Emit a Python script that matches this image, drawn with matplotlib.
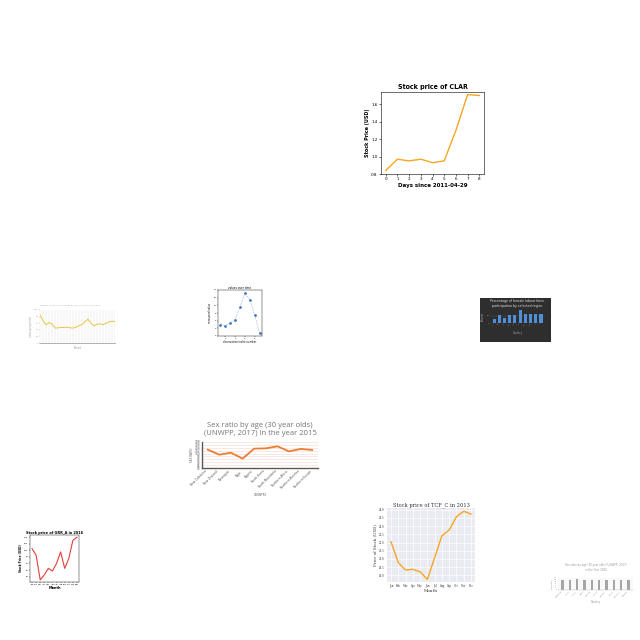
import matplotlib
matplotlib.use("Agg")
import matplotlib.pyplot as plt

# --- data -------------------------------------------------------------
clar_days = [0, 1, 2, 3, 4, 5, 6, 7, 8]
clar_price = [0.84, 0.97, 0.95, 0.97, 0.93, 0.95, 1.30, 1.71, 1.70]

trend_x = list(range(26))
trend_y = [85, 68, 55, 62, 58, 45, 46, 47, 47, 48, 46, 45, 48, 52, 56, 65,
           72, 60, 52, 57, 58, 55, 60, 64, 66, 65]

peak_x = [1, 2, 3, 4, 5, 6, 7, 8, 9]
peak_y = [5.0, 4.7, 5.5, 6.3, 9.6, 13.1, 11.5, 7.5, 2.8]

dark_labels = ["A", "B", "C", "D", "E", "F", "G", "H", "I", "J"]
dark_vals = [12, 22, 14, 22, 22, 36, 24, 24, 24, 24]

countries_2015 = ["New Caledonia", "New Zealand", "Nicaragua", "Niger", "Nigeria",
                  "North Korea", "North Macedonia", "Northern Africa",
                  "Northern America", "Northern Europe"]
ratio_2015 = [102.7, 99.2, 100.6, 96.5, 103.4, 103.6, 105.0, 101.5, 103.2, 102.5]

months = ["Jan", "Feb", "Mar", "Apr", "May", "Jun", "Jul", "Aug", "Sep", "Oct", "Nov", "Dec"]
grr_price = [105, 85, 10, 25, 45, 37, 60, 95, 45, 75, 130, 140]
tcf_price = [22.04, 20.78, 20.33, 20.37, 20.22, 19.76, 21.08, 22.41, 22.76, 23.57, 23.90, 23.73]

countries_1980 = ["Afghanistan", "Albania", "Algeria", "Angola", "Argentina",
                  "Armenia", "Australia", "Austria", "Azerbaijan", "Bahamas"]
ratio_1980 = [102, 101, 108, 101, 100, 101, 102, 101, 100, 104]

W = 640


def box(l, t, r, b):
    # pixel box -> figure fraction rect
    return [l / W, 1 - b / W, (r - l) / W, (b - t) / W]


fig = plt.figure(figsize=(6.4, 6.4), dpi=100)
fig.patch.set_facecolor("white")

# --- CLAR stock -------------------------------------------------------
ax = fig.add_axes(box(381, 92, 484, 174))
ax.plot(clar_days, clar_price, color="#f5a623", lw=1)
ax.set_ylim(0.8, 1.74)
ax.set_yticks([0.8, 1.0, 1.2, 1.4, 1.6])
ax.set_xticks(clar_days)
ax.tick_params(labelsize=3, length=1.5, width=0.4, pad=1)
for s in ax.spines.values():
    s.set_linewidth(0.4)
ax.set_title("Stock price of CLAR", fontsize=5, fontweight="bold", pad=2, fontstretch="condensed")
ax.set_xlabel("Days since 2011-04-29", fontsize=4, fontweight="bold", labelpad=1)
ax.set_ylabel("Stock Price (USD)", fontsize=3.5, fontweight="bold", labelpad=1)

# --- light trend line ------------------------------------------------
ax = fig.add_axes(box(40, 310, 115, 343))
ax.plot(trend_x, trend_y, color="#e8c547", lw=0.7)
ax.set_xlim(0, 25)
ax.set_ylim(0, 100)
ax.set_xticks(trend_x)
ax.set_xticklabels([""] * len(trend_x))
ax.set_yticks([0, 20, 40, 60, 80, 100])
ax.grid(axis="x", color="#dddddd", lw=0.3)
ax.tick_params(labelsize=1.5, length=0.8, width=0.3, pad=0.5, colors="#999999")
for s in ax.spines.values():
    s.set_visible(False)
ax.spines["bottom"].set_visible(True)
ax.spines["bottom"].set_color("#999999")
ax.spines["bottom"].set_linewidth(0.5)
ax.set_title("monthly values for the selected period by the reporting station",
             fontsize=1.4, color="#aaaaaa", pad=3, loc="left")
ax.set_ylabel("value per period", fontsize=1.8, color="#999999", labelpad=1)
ax.set_xlabel("Period", fontsize=1.8, color="#999999", labelpad=1)

# --- peak scatter line ----------------------------------------------
ax = fig.add_axes(box(218, 290, 262, 336))
ax.plot(peak_x, peak_y, color="#9ab8dd", lw=0.4, ls="--")
ax.plot(peak_x, peak_y, "o", color="#4a78b5", ms=1)
ax.set_xlim(0.5, 9.5)
ax.set_ylim(2, 14)
ax.tick_params(labelsize=1.5, length=0.8, width=0.3, pad=0.5)
for s in ax.spines.values():
    s.set_linewidth(0.3)
ax.set_title("values over time", fontsize=2, pad=1)
ax.set_xlabel("observation index number", fontsize=1.8, labelpad=1)
ax.set_ylabel("measured value", fontsize=1.8, labelpad=1)

# --- dark bar chart --------------------------------------------------
bg = fig.add_axes(box(480, 298, 551, 342))
bg.set_facecolor("#2e2e2e")
bg.set_xticks([])
bg.set_yticks([])
for s in bg.spines.values():
    s.set_visible(False)
ax = fig.add_axes(box(490, 309, 545, 323))
ax.set_facecolor("#2e2e2e")
ax.bar(dark_labels, dark_vals, color="#4f8fd6", width=0.6)
ax.set_ylim(0, 38)
ax.grid(axis="y", color="#555555", lw=0.3)
ax.set_axisbelow(True)
ax.tick_params(labelsize=1.5, length=0, pad=0.5, colors="#aaaaaa")
plt.setp(ax.get_xticklabels(), rotation=45, ha="right")
for s in ax.spines.values():
    s.set_visible(False)
ax.set_title("Percentage of female labour force\nparticipation by selected region",
             fontsize=2.3, color="#dddddd", pad=1.5)
ax.set_xlabel("Country", fontsize=1.8, color="#aaaaaa", labelpad=4)
ax.set_ylabel("Percent", fontsize=1.8, color="#aaaaaa", labelpad=1)

# --- sex ratio 2015 ---------------------------------------------------
ax = fig.add_axes(box(202, 442, 318, 468))
ax.plot(countries_2015, ratio_2015, color="#ed7d31", lw=1.3)
ax.set_ylim(90, 108)
ax.set_yticks(range(90, 109, 2))
ax.set_xlim(-0.5, 9.5)
ax.grid(axis="y", color="#f2d7cc", lw=0.4)
ax.tick_params(labelsize=2.1, length=0, pad=1, colors="#595959")
plt.setp(ax.get_xticklabels(), rotation=45, ha="right")
for s in ax.spines.values():
    s.set_visible(False)
for side in ["bottom", "left"]:
    ax.spines[side].set_visible(True)
    ax.spines[side].set_color("#595959")
    ax.spines[side].set_linewidth(1)
ax.set_title("Sex ratio by age (30 year olds)\n(UNWPP, 2017) in the year 2015",
             fontsize=5.5, color="#757575", pad=5, family="Open Sans")
ax.set_xlabel("COUNTRY", fontsize=2, color="#595959", labelpad=2)
ax.set_ylabel("SEX RATIO", fontsize=2, color="#595959", labelpad=1)

# --- GRR red line ----------------------------------------------------
ax = fig.add_axes(box(30, 535, 79, 582))
ax.plot(months, grr_price, color="#e0403a", lw=0.8)
ax.set_xlim(-0.5, 11.5)
ax.tick_params(labelsize=1.5, length=0.8, width=0.3, pad=0.5)
for s in ax.spines.values():
    s.set_linewidth(0.3)
ax.set_title("Stock price of GRR_A in 2016", fontsize=2.5, fontweight="bold", pad=1)
ax.set_xlabel("Month", fontsize=2.5, fontweight="bold", labelpad=1)
ax.set_ylabel("Stock Price (USD)", fontsize=2, fontweight="bold", labelpad=1)

# --- TCF_C darkgrid ---------------------------------------------------
ax = fig.add_axes(box(387, 508, 475, 582))
ax.set_facecolor("#eaeaf2")
ax.grid(color="white", lw=0.5)
ax.set_axisbelow(True)
ax.plot(months, tcf_price, color="#f5a623", lw=1)
ax.set_ylim(19.6, 24.1)
ax.set_yticks([20.0, 20.5, 21.0, 21.5, 22.0, 22.5, 23.0, 23.5, 24.0])
ax.set_yticklabels([f"{v:.1f}" for v in ax.get_yticks()], family="DejaVu Serif")
ax.set_xticks(range(12))
ax.set_xticklabels(months, family="DejaVu Serif")
ax.tick_params(labelsize=1.9, length=0, pad=1.5, colors="#333333")
for s in ax.spines.values():
    s.set_visible(False)
ax.set_title("Stock price of TCF_C in 2013", fontsize=3.7, family="DejaVu Serif", pad=1.5, color="#333333")
ax.set_xlabel("Month", fontsize=3, family="DejaVu Serif", labelpad=1, color="#333333")
ax.set_ylabel("Price of Stock (USD)", fontsize=2.8, family="DejaVu Serif", labelpad=1, color="#333333")

# --- sex ratio 1980 bars ----------------------------------------------
ax = fig.add_axes(box(558, 578, 633, 590))
ax.bar(countries_1980, ratio_1980, color="#a5a5a5", width=0.3)
ax.set_ylim(0, 120)
ax.set_yticks([0, 20, 40, 60, 80, 100, 120])
ax.grid(axis="y", color="#e6e6e6", lw=0.3)
ax.set_axisbelow(True)
ax.tick_params(labelsize=1.2, length=0, pad=0.5, colors="#888888")
plt.setp(ax.get_xticklabels(), rotation=45, ha="right")
for s in ax.spines.values():
    s.set_visible(False)
ax.spines["bottom"].set_visible(True)
ax.spines["bottom"].set_color("#bbbbbb")
ax.spines["bottom"].set_linewidth(0.3)
ax.set_title("Sex ratio by age (30 year olds) (UNWPP, 2017)\nin the Year 1980",
             fontsize=1.9, color="#999999", pad=5)
ax.set_xlabel("Country", fontsize=1.8, color="#888888", labelpad=1)
ax.set_ylabel("Sex ratio", fontsize=1.5, color="#888888", labelpad=1)

fig.savefig("out.png", dpi=100)
